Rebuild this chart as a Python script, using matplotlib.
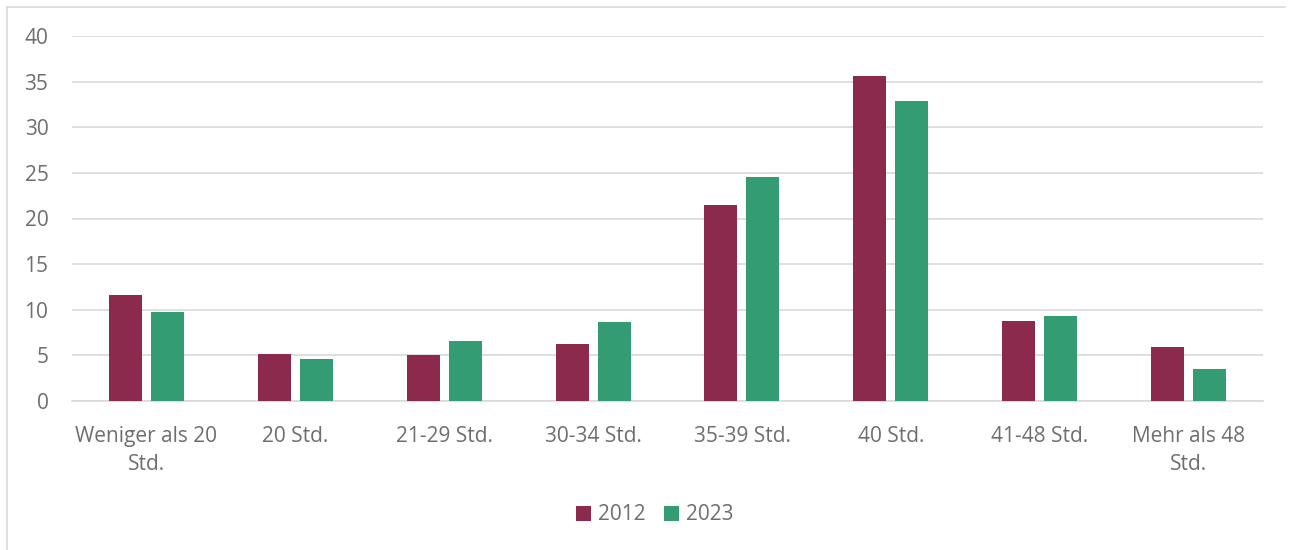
import numpy as np
import matplotlib.pyplot as plt
from matplotlib.lines import Line2D

# DATA
categories = ["Weniger als 20\nStd.", "20 Std.", "21-29 Std.", "30-34 Std.",
              "35-39 Std.", "40 Std.", "41-48 Std.", "Mehr als 48\nStd."]
values_2012 = [11.6, 5.2, 5.0, 6.2, 21.5, 35.6, 8.8, 5.9]
values_2023 = [9.7, 4.6, 6.6, 8.7, 24.6, 32.9, 9.3, 3.5]
series_labels = ["2012", "2023"]

c2012 = "#8C2A4E"
c2023 = "#339C73"
txt = "#6E6E6E"

plt.rcParams['font.family'] = ['Open Sans', 'DejaVu Sans']

fig = plt.figure(figsize=(12.91, 5.5), dpi=100)
ax = fig.add_axes([72/1291, 1-401/550, (1263-72)/1291, (401-36)/550])

# light border, only top and left edges are visible in the source
bx, by = 7/1291, 1-7/550
fig.add_artist(Line2D([bx, bx], [0, by], transform=fig.transFigure, color="#D9D9D9", lw=1.2))
fig.add_artist(Line2D([bx, 1285/1291], [by, by], transform=fig.transFigure, color="#D9D9D9", lw=1.2))

x = np.arange(len(categories))
w = 0.222
off = 0.141
ax.bar(x - off, values_2012, w, color=c2012, label=series_labels[0], zorder=3)
ax.bar(x + off, values_2023, w, color=c2023, label=series_labels[1], zorder=3)

ax.set_xlim(-0.5, len(categories) - 0.5)
ax.set_ylim(0, 40)
ax.set_yticks(range(0, 41, 5))
ax.yaxis.grid(True, color="#D9D9D9", linewidth=1.2, zorder=0)
ax.set_axisbelow(True)
for s in ["top", "right", "left"]:
    ax.spines[s].set_visible(False)
ax.spines["bottom"].set_color("#D9D9D9")
ax.spines["bottom"].set_linewidth(1.2)

ax.set_xticks(x)
ax.set_xticklabels(categories, fontsize=15, color=txt, linespacing=1.45)
ax.tick_params(axis="x", length=0, pad=18)
ax.tick_params(axis="y", length=0, pad=17, labelsize=15, labelcolor=txt)

fig.legend(loc="center", bbox_to_anchor=(655/1291, 1-515/550), ncol=2, frameon=False,
           fontsize=15, labelcolor=txt, handlelength=0.7, handleheight=0.7,
           handletextpad=0.35, columnspacing=0.9)

plt.savefig("out.png", dpi=100)
